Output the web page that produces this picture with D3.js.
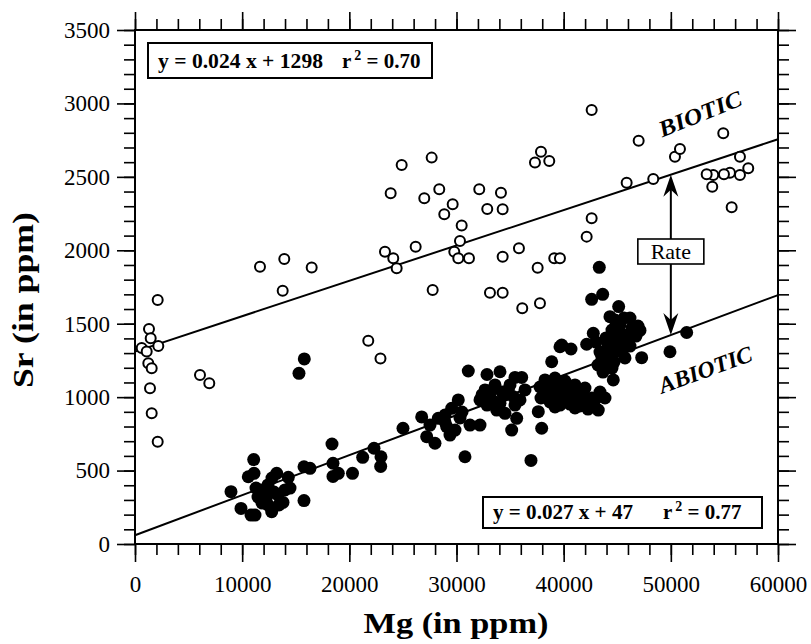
<!DOCTYPE html>
<html>
<head>
<meta charset="utf-8">
<script src="https://cdnjs.cloudflare.com/ajax/libs/d3/7.8.5/d3.min.js"></script>
<style>
    body { margin: 0; background: #fff; }
    .axis text { font-family: "Liberation Serif", serif; font-size: 23px; fill: #000; }
    .axis line { stroke: #000; stroke-width: 1.6; }
    .axis path { display: none; }
</style>
</head>
<body>
<script>
// biotic samples (open circles)
var bioticMg = [625, 1306, 1465, 1092, 2174, 1241, 1558, 1400, 1558, 2118, 2118, 6065, 6932,
    11663, 13930, 16487, 13781, 21767, 22906, 23325, 24099, 24417, 23857, 24884, 26190,
    27683, 28392, 26993, 29643, 28859, 30483, 30325, 29793, 30166, 31164, 27777, 32124,
    34148, 32870, 34307, 34307, 35827, 33122, 34307, 37573, 39122, 39653, 36136, 37788,
    37882, 37322, 38656, 42612, 42612, 42146, 45878, 46998, 48360, 50385, 50852, 54892,
    56450, 57224, 56450, 55517, 54957, 53958, 53344, 53866, 55676];
var bioticSr = [1335, 1464, 1401, 1310, 1348, 1231, 1197, 1060, 890, 697, 1662, 1151, 1094,
    1888, 1941, 1882, 1725, 1384, 1263, 1990, 1946, 1877, 2388, 2581, 2024,
    2631, 2415, 2354, 2313, 2245, 2168, 2063, 1990, 1946, 1946, 1730, 2415,
    2392, 2281, 2279, 1956, 2014, 1711, 1711, 1881, 1946, 1946, 1605, 1639,
    2671, 2597, 2608, 2955, 2218, 2093, 2460, 2746, 2486, 2637, 2690, 2797,
    2637, 2558, 2513, 2528, 2517, 2513, 2517, 2433, 2293];

// abiotic samples (filled circles)
var abioticMg = [8958, 9891, 10824, 11197, 12755, 10572, 11104, 11076, 12289, 13222, 14304,
    13809, 15769, 15769, 16329, 18382, 18475, 18475, 18970, 20295, 21246, 22301, 22953,
    22925, 15797, 15302, 11850, 12410, 12970, 11850, 13343, 12410, 11477, 13996, 13436,
    11290, 12783, 14463, 25007, 26752, 28301, 27219, 27993, 29085, 29859, 29551, 30166,
    30791, 31259, 32192, 32192, 31100, 32845, 34058, 33125, 34058, 34834, 35300, 33750,
    34524, 35458, 36083, 35150, 35616, 36950, 37632, 37949, 38881, 39656, 39031, 39815,
    40683, 42148, 42764, 43324, 42613, 43640, 45133, 44322, 45255, 47121, 47279, 49920,
    51478, 44630, 43230,
    38256, 39189, 40122, 41055, 38256, 39189, 40122, 41055, 41988, 42922, 38723, 39656,
    40589, 41522, 42455, 43388, 43855, 37883, 41988,
    38537, 39470, 40403, 41336, 38910, 39843, 40776, 41710, 42643, 37790, 39190, 41056, 42269,
    43201, 43855, 44508, 45255, 43388, 44135, 44882, 45628, 46374, 44508, 45255, 46001,
    43668, 44508, 45721, 46747, 46188, 45068, 43948, 43015,
    43576, 44322, 45068, 45815, 46561, 43762, 44695, 45441, 46188, 46934, 44789, 45628, 44135,
    32659, 33592, 34524, 35924, 32845, 36391, 28926, 30512,
    32379, 33312, 34245, 34991, 33592, 35458, 28926, 30326, 29393, 27526];
var abioticSr = [356, 242, 197, 197, 220, 458, 481, 575, 322, 481, 454,
    283, 296, 526, 515, 681, 550, 460, 481, 481, 590, 652, 594,
    528, 1260, 1162, 368, 402, 354, 279, 334, 266, 320, 368, 266,
    381, 449, 381, 788, 865, 856, 731, 686, 799, 776, 924, 981,
    594, 810, 810, 981, 1178, 1154, 1173, 1003, 958, 1049, 1003, 912,
    890, 1134, 1134, 776, 856, 569, 901, 788, 1241, 1343, 1071, 1355,
    1328, 1360, 1435, 1884, 1666, 1700, 1617, 1548, 1514, 1454, 1269, 1309,
    1440, 1117, 912,
    1117, 1130, 1110, 1083, 1035, 1035, 1015, 1001, 994, 981, 967, 946,
    953, 940, 953, 1035, 994, 994, 1062,
    1083, 1076, 1062, 1035, 1008, 987, 981, 974, 994, 1069, 933, 926, 919,
    1219, 1253, 1287, 1321, 1307, 1355, 1389, 1423, 1471, 1457, 1491, 1375,
    1171, 1198, 1267, 1416, 1539, 1437, 1403, 1375,
    1266, 1321, 1362, 1403, 1457, 1212, 1239, 1307, 1348, 1484, 1525, 1539, 1403,
    1049, 1083, 1015, 981, 946, 1049, 878, 899,
    1015, 1049, 1035, 1083, 967, 946, 831, 858, 742, 810];

// regression lines, read at both ends of the x range
var fitMg = [0, 60000];
var bioticFitSr = [1310, 2756];
var abioticFitSr = [60, 1695];
var rateMg = 50000;

var xTicks = [0, 10000, 20000, 30000, 40000, 50000, 60000];
var yTicks = [0, 500, 1000, 1500, 2000, 2500, 3000, 3500];

// set the dimensions and margins of the graph
var margin = {top: 30, right: 33, bottom: 100, left: 135},
    width = 811 - margin.left - margin.right,
    height = 644 - margin.top - margin.bottom;

var root = d3.select("body").append("svg")
    .attr("width", 811)
    .attr("height", 644);
var svg = root.append("g")
    .attr("transform", "translate(" + margin.left + "," + margin.top + ")");

var x = d3.scaleLinear().domain([0, 60000]).range([0, width]);
var y = d3.scaleLinear().domain([0, 3500]).range([height, 0]);

var xMinor = d3.range(0, 60001, 2000);
var yMinor = d3.range(0, 3501, 100);

// minor ticks on all four sides
svg.append("g").attr("class", "axis")
    .call(d3.axisLeft(y).tickValues(yMinor).tickSize(11).tickFormat(""));
svg.append("g").attr("class", "axis")
    .attr("transform", "translate(" + width + ",0)")
    .call(d3.axisRight(y).tickValues(yMinor).tickSize(11).tickFormat(""));
svg.append("g").attr("class", "axis")
    .attr("transform", "translate(0," + height + ")")
    .call(d3.axisBottom(x).tickValues(xMinor).tickSize(11).tickFormat(""));
svg.append("g").attr("class", "axis")
    .call(d3.axisTop(x).tickValues(xMinor).tickSize(11).tickFormat(""));

// major ticks
svg.append("g").attr("class", "axis")
    .call(d3.axisLeft(y).tickValues(yTicks).tickSize(18).tickPadding(7).tickFormat(d3.format("d")));
svg.append("g").attr("class", "axis")
    .attr("transform", "translate(" + width + ",0)")
    .call(d3.axisRight(y).tickValues(yTicks).tickSize(18).tickFormat(""));
svg.append("g").attr("class", "axis")
    .attr("transform", "translate(0," + height + ")")
    .call(d3.axisBottom(x).tickValues(xTicks).tickSize(18).tickPadding(14).tickFormat(d3.format("d")));
svg.append("g").attr("class", "axis")
    .call(d3.axisTop(x).tickValues(xTicks).tickSize(18).tickFormat(""));

// frame
svg.append("rect")
    .attr("width", width)
    .attr("height", height)
    .attr("fill", "none")
    .attr("stroke", "#000")
    .attr("stroke-width", 2);

// fit lines
var line = d3.line()
    .x(function (d) { return x(d[0]); })
    .y(function (d) { return y(d[1]); });
svg.append("path")
    .datum(d3.zip(fitMg, bioticFitSr))
    .attr("d", line)
    .attr("fill", "none").attr("stroke", "#000").attr("stroke-width", 2);
svg.append("path")
    .datum(d3.zip(fitMg, abioticFitSr))
    .attr("d", line)
    .attr("fill", "none").attr("stroke", "#000").attr("stroke-width", 2);

// points
svg.selectAll(".abiotic")
    .data(d3.zip(abioticMg, abioticSr))
    .enter().append("circle")
    .attr("class", "abiotic")
    .attr("cx", function (d) { return x(d[0]); })
    .attr("cy", function (d) { return y(d[1]); })
    .attr("r", 6.5)
    .attr("fill", "#000");

svg.selectAll(".biotic")
    .data(d3.zip(bioticMg, bioticSr))
    .enter().append("circle")
    .attr("class", "biotic")
    .attr("cx", function (d) { return x(d[0]); })
    .attr("cy", function (d) { return y(d[1]); })
    .attr("r", 5)
    .attr("fill", "#fff")
    .attr("stroke", "#000")
    .attr("stroke-width", 2);

// rate arrow between the two lines
function lineAt(sr, mg) {
    return sr[0] + (sr[1] - sr[0]) * (mg - fitMg[0]) / (fitMg[1] - fitMg[0]);
}
var xa = x(rateMg),
    yTop = y(lineAt(bioticFitSr, rateMg)),
    yBot = y(lineAt(abioticFitSr, rateMg));
svg.append("line")
    .attr("x1", xa).attr("x2", xa)
    .attr("y1", yTop + 10).attr("y2", yBot - 10)
    .attr("stroke", "#000").attr("stroke-width", 2);
svg.append("path")
    .attr("d", "M" + xa + "," + yTop + "L" + (xa - 7.5) + "," + (yTop + 22) +
        "L" + xa + "," + (yTop + 15) + "L" + (xa + 7.5) + "," + (yTop + 22) + "Z")
    .attr("fill", "#000");
svg.append("path")
    .attr("d", "M" + xa + "," + yBot + "L" + (xa - 7.5) + "," + (yBot - 22) +
        "L" + xa + "," + (yBot - 15) + "L" + (xa + 7.5) + "," + (yBot - 22) + "Z")
    .attr("fill", "#000");

// Rate label box
root.append("rect")
    .attr("x", margin.left + xa - 33).attr("y", 239)
    .attr("width", 66).attr("height", 25)
    .attr("fill", "#fff").attr("stroke", "#000").attr("stroke-width", 1.6);
root.append("text")
    .attr("x", margin.left + xa).attr("y", 259)
    .attr("text-anchor", "middle")
    .style("font-family", "Liberation Serif, serif")
    .style("font-size", "22px")
    .text("Rate");

// equation boxes
function eqBox(bx, by, bw, bh, left, r2, base, l1, x2) {
    root.append("rect")
        .attr("x", bx).attr("y", by).attr("width", bw).attr("height", bh)
        .attr("fill", "#fff").attr("stroke", "#000").attr("stroke-width", 2);
    root.append("text")
        .attr("x", bx + 10).attr("y", base)
        .attr("textLength", l1).attr("lengthAdjust", "spacingAndGlyphs")
        .style("font-family", "Liberation Serif, serif")
        .style("font-weight", "bold").style("font-size", "21px")
        .text(left);
    var t = root.append("text")
        .attr("x", x2).attr("y", base)
        .style("font-family", "Liberation Serif, serif")
        .style("font-weight", "bold").style("font-size", "21px");
    t.append("tspan").text("r");
    t.append("tspan").attr("dx", 3).attr("dy", -8).style("font-size", "14px").text("2");
    t.append("tspan").attr("dy", 8).text(" = " + r2);
}
eqBox(148, 43, 284, 35, "y = 0.024 x + 1298", "0.70", 68, 165, 342);
eqBox(483, 497, 279, 31, "y = 0.027 x + 47", "0.77", 519, 140, 663);

// BIOTIC / ABIOTIC labels
root.append("text")
    .attr("transform", "translate(703,121) rotate(-22)")
    .attr("text-anchor", "middle")
    .attr("textLength", 88).attr("lengthAdjust", "spacingAndGlyphs")
    .style("font-family", "Liberation Serif, serif")
    .style("font-style", "italic").style("font-weight", "bold")
    .style("font-size", "23px")
    .text("BIOTIC");
root.append("text")
    .attr("transform", "translate(708,377) rotate(-20)")
    .attr("text-anchor", "middle")
    .attr("textLength", 98).attr("lengthAdjust", "spacingAndGlyphs")
    .style("font-family", "Liberation Serif, serif")
    .style("font-style", "italic").style("font-weight", "bold")
    .style("font-size", "23px")
    .text("ABIOTIC");

// axis titles
root.append("text")
    .attr("x", 456).attr("y", 633)
    .attr("text-anchor", "middle")
    .attr("textLength", 185).attr("lengthAdjust", "spacingAndGlyphs")
    .style("font-family", "Liberation Serif, serif")
    .style("font-weight", "bold").style("font-size", "30px")
    .text("Mg (in ppm)");
root.append("text")
    .attr("transform", "translate(33,300) rotate(-90)")
    .attr("text-anchor", "middle")
    .attr("textLength", 176).attr("lengthAdjust", "spacingAndGlyphs")
    .style("font-family", "Liberation Serif, serif")
    .style("font-weight", "bold").style("font-size", "30px")
    .text("Sr (in ppm)");
</script>
</body>
</html>
